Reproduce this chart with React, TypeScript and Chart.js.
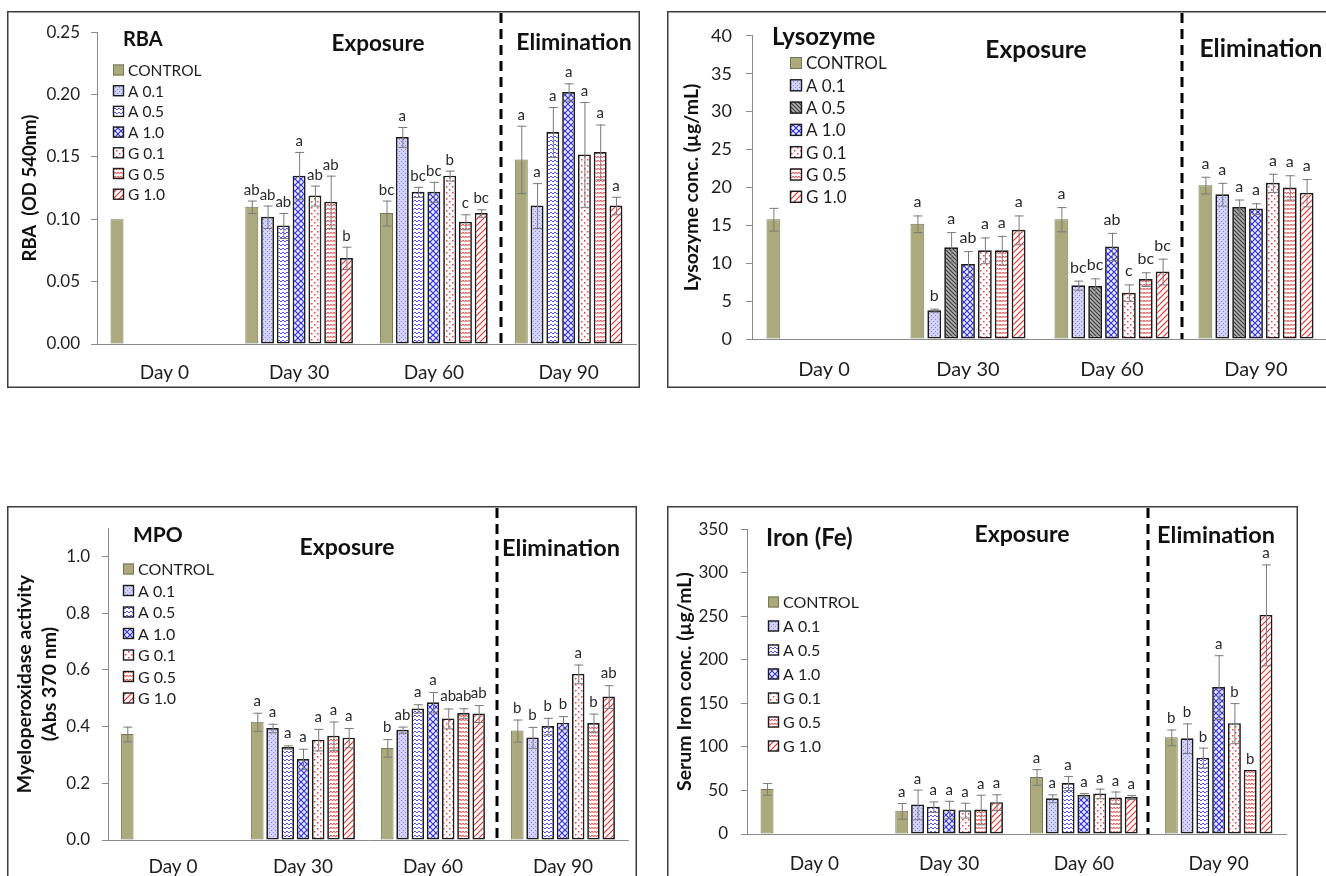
import React, { useEffect, useRef } from 'react';
import { Chart, registerables } from 'chart.js';

Chart.register(...registerables);

const FONT = 'Lato, "Open Sans", "DejaVu Sans", sans-serif';
Chart.defaults.font.family = FONT;

// ---------- shared categories ----------
const DAYS = ['Day 0', 'Day 30', 'Day 60', 'Day 90'];
const SERIES = ['CONTROL', 'A 0.1', 'A 0.5', 'A 1.0', 'G 0.1', 'G 0.5', 'G 1.0'];

// ---------- RBA ----------
const RBA_MEANS = [
  [0.100, 0.110, 0.105, 0.148],
  [null, 0.102, 0.166, 0.111],
  [null, 0.095, 0.122, 0.170],
  [null, 0.135, 0.122, 0.202],
  [null, 0.119, 0.135, 0.152],
  [null, 0.114, 0.098, 0.154],
  [null, 0.069, 0.105, 0.111],
];
const RBA_ERRORS = [
  [0, 0.005, 0.010, 0.027],
  [null, 0.009, 0.008, 0.018],
  [null, 0.010, 0.004, 0.020],
  [null, 0.019, 0.008, 0.007],
  [null, 0.008, 0.004, 0.042],
  [null, 0.021, 0.006, 0.022],
  [null, 0.009, 0.003, 0.007],
];
const RBA_LETTERS = [
  ['', 'ab', 'bc', 'a'],
  ['', 'ab', 'a', 'a'],
  ['', 'ab', 'bc', 'a'],
  ['', 'a', 'bc', 'a'],
  ['', 'ab', 'b', 'a'],
  ['', 'ab', 'c', 'a'],
  ['', 'b', 'bc', 'a'],
];
const RBA_TICKS = [0, 0.05, 0.1, 0.15, 0.2, 0.25];

// ---------- Lysozyme ----------
const LYS_MEANS = [
  [15.8, 15.2, 15.8, 20.3],
  [null, 3.8, 7.1, 19.1],
  [null, 12.1, 7.0, 17.4],
  [null, 9.9, 12.2, 17.2],
  [null, 11.7, 6.1, 20.6],
  [null, 11.7, 7.9, 20.0],
  [null, 14.4, 8.9, 19.3],
];
const LYS_ERRORS = [
  [1.5, 1.1, 1.6, 1.1],
  [null, 0.2, 0.6, 1.5],
  [null, 2.0, 1.0, 1.0],
  [null, 1.7, 1.8, 0.7],
  [null, 1.7, 1.1, 1.2],
  [null, 1.9, 0.9, 1.6],
  [null, 1.9, 1.7, 1.8],
];
const LYS_LETTERS = [
  ['', 'a', 'a', 'a'],
  ['', 'b', 'bc', 'a'],
  ['', 'a', 'bc', 'a'],
  ['', 'ab', 'ab', 'a'],
  ['', 'a', 'c', 'a'],
  ['', 'a', 'bc', 'a'],
  ['', 'a', 'bc', 'a'],
];
const LYS_TICKS = [0, 5, 10, 15, 20, 25, 30, 35, 40];

// ---------- MPO ----------
const MPO_MEANS = [
  [0.374, 0.417, 0.325, 0.386],
  [null, 0.395, 0.389, 0.362],
  [null, 0.328, 0.464, 0.402],
  [null, 0.286, 0.486, 0.414],
  [null, 0.354, 0.429, 0.586],
  [null, 0.368, 0.448, 0.413],
  [null, 0.361, 0.446, 0.506],
];
const MPO_ERRORS = [
  [0.026, 0.032, 0.031, 0.039],
  [null, 0.015, 0.011, 0.037],
  [null, 0.006, 0.015, 0.029],
  [null, 0.036, 0.036, 0.023],
  [null, 0.038, 0.035, 0.033],
  [null, 0.050, 0.017, 0.033],
  [null, 0.034, 0.030, 0.040],
];
const MPO_LETTERS = [
  ['', 'a', 'b', 'b'],
  ['', 'a', 'ab', 'b'],
  ['', 'a', 'a', 'b'],
  ['', 'a', 'a', 'b'],
  ['', 'a', 'ab', 'a'],
  ['', 'a', 'ab', 'b'],
  ['', 'a', 'ab', 'ab'],
];
const MPO_TICKS = [0, 0.2, 0.4, 0.6, 0.8, 1.0];

// ---------- Iron ----------
const FE_MEANS = [
  [51.8, 26.6, 65.5, 111],
  [null, 34, 41, 110],
  [null, 31.4, 58.5, 87.7],
  [null, 28.1, 45, 168.7],
  [null, 27.4, 46.6, 127.3],
  [null, 28.1, 41.8, 73.6],
  [null, 36.6, 42.5, 251.6],
];
const FE_ERRORS = [
  [6.7, 9, 9, 9],
  [null, 17, 4.5, 17],
  [null, 6, 8, 11.5],
  [null, 10, 2, 36.6],
  [null, 8.5, 5.5, 23],
  [null, 17, 7, 0],
  [null, 9, 2.3, 58],
];
const FE_LETTERS = [
  ['', 'a', 'a', 'b'],
  ['', 'a', 'a', 'b'],
  ['', 'a', 'a', 'b'],
  ['', 'a', 'a', 'a'],
  ['', 'a', 'a', 'b'],
  ['', 'a', 'a', 'b'],
  ['', 'a', 'a', 'a'],
];
const FE_TICKS = [0, 50, 100, 150, 200, 250, 300, 350];

// ---------- layout (page pixels) ----------
const PANELS: any[] = [
  {
    key: 'rba', means: RBA_MEANS, errors: RBA_ERRORS, letters: RBA_LETTERS, ticks: RBA_TICKS, max: 0.25, dec: 2,
    box: { x: 7, y: 11, w: 633, h: 377 }, area: { l: 97, t: 24, r: 636, b: 344 },
    yTitle: ['RBA  (OD 540nm)'], yTitleX: 30, yTitleSize: 18.5, yTitleLH: 1.2,
    tickSize: 17, tickPad: 11, daySize: 19, dayY: 373,
    dashX: 501, title: { text: 'RBA', x: 123, y: 40, size: 20 },
    expo: { x: 378, y: 44, size: 22.5 }, elim: { x: 574, y: 43, size: 23 },
    legend: { sx: 113, tx: 128, y0: 70, dy: 20.7, box: 11, size: 15.5 },
    letterSize: 15, letterGap: 6, grayA05: false,
  },
  {
    key: 'lys', means: LYS_MEANS, errors: LYS_ERRORS, letters: LYS_LETTERS, ticks: LYS_TICKS, max: 40, dec: 0,
    box: { x: 667, y: 11, w: 700, h: 377 }, area: { l: 752, t: 24, r: 1328, b: 339 },
    yTitle: ['Lysozyme conc. (µg/mL)'], yTitleX: 692, yTitleSize: 19.5, yTitleLH: 1.2,
    tickSize: 18, tickPad: 14, daySize: 20, dayY: 370,
    dashX: 1182, title: { text: 'Lysozyme', x: 772, y: 37, size: 24 },
    expo: { x: 1036, y: 50, size: 24.5 }, elim: { x: 1261, y: 49, size: 24.5 },
    legend: { sx: 790, tx: 806, y0: 63, dy: 22.3, box: 12, size: 17 },
    letterSize: 16, letterGap: 8, grayA05: true,
  },
  {
    key: 'mpo', means: MPO_MEANS, errors: MPO_ERRORS, letters: MPO_LETTERS, ticks: MPO_TICKS, max: 1.1, dec: 1,
    box: { x: 7, y: 506, w: 630, h: 385 }, area: { l: 108, t: 518, r: 628, b: 840 },
    yTitle: ['Myeloperoxidase activity', '(Abs 370 nm)'], yTitleX: 25, yTitleSize: 19.5, yTitleLH: 25 / 19.5,
    tickSize: 17, tickPad: 12, daySize: 19, dayY: 867,
    dashX: 497, title: { text: 'MPO', x: 133, y: 535, size: 21 },
    expo: { x: 347, y: 548, size: 23 }, elim: { x: 561, y: 548, size: 23.5 },
    legend: { sx: 123, tx: 138, y0: 569, dy: 21.5, box: 11, size: 16 },
    letterSize: 15, letterGap: 7, grayA05: false,
  },
  {
    key: 'fe', means: FE_MEANS, errors: FE_ERRORS, letters: FE_LETTERS, ticks: FE_TICKS, max: 350, dec: 0,
    box: { x: 667, y: 506, w: 631, h: 385 }, area: { l: 747, t: 519, r: 1286, b: 834 },
    yTitle: ['Serum Iron conc. (µg/mL)'], yTitleX: 685, yTitleSize: 19.5, yTitleLH: 1.2,
    tickSize: 17, tickPad: 13, daySize: 19, dayY: 864,
    dashX: 1148, title: { text: 'Iron (Fe)', x: 766, y: 538, size: 24 },
    expo: { x: 1022, y: 535, size: 23 }, elim: { x: 1216, y: 535, size: 23.5 },
    legend: { sx: 768, tx: 783, y0: 602, dy: 24, box: 11, size: 16 },
    letterSize: 15, letterGap: 6, grayA05: false,
  },
];

const CONTROL_FILL = 'rgb(170,170,124)';
const CONTROL_EDGE = 'rgb(118,118,84)';
const BAR_EDGE = '#1c1c1c';
const AXIS_GRAY = '#8a8a8a';
const TEXT = '#1e1e1e';

function makeFills(ctx: CanvasRenderingContext2D, grayA05: boolean): any[] {
  const tile = (w: number, h: number, draw: (g: CanvasRenderingContext2D) => void) => {
    const c = document.createElement('canvas');
    c.width = w;
    c.height = h;
    const g = c.getContext('2d') as CanvasRenderingContext2D;
    g.fillStyle = '#ffffff';
    g.fillRect(0, 0, w, h);
    draw(g);
    return ctx.createPattern(c, 'repeat');
  };
  const a01 = tile(4, 4, (g) => {
    g.fillStyle = '#d2d2fb';
    g.fillRect(0, 0, 4, 4);
    g.fillStyle = '#8686ee';
    g.fillRect(0, 0, 1, 1);
    g.fillRect(2, 2, 1, 1);
  });
  const a05 = grayA05
    ? tile(4, 4, (g) => {
        g.fillStyle = '#b2b2b2';
        g.fillRect(0, 0, 4, 4);
        g.strokeStyle = '#3a3a3a';
        g.lineWidth = 1.2;
        g.beginPath();
        g.moveTo(-1, -1); g.lineTo(5, 5);
        g.moveTo(-1, 3); g.lineTo(1, 5);
        g.moveTo(3, -1); g.lineTo(5, 1);
        g.stroke();
      })
    : tile(8, 4, (g) => {
        g.strokeStyle = '#5252f0';
        g.lineWidth = 1;
        g.beginPath();
        g.moveTo(0, 1); g.lineTo(2, 3); g.lineTo(4, 1); g.lineTo(6, 3); g.lineTo(8, 1);
        g.stroke();
      });
  const a10 = tile(6, 6, (g) => {
    g.fillStyle = '#ececff';
    g.fillRect(0, 0, 6, 6);
    g.strokeStyle = '#3232e0';
    g.lineWidth = 1.2;
    g.beginPath();
    g.moveTo(0, 0); g.lineTo(6, 6);
    g.moveTo(6, 0); g.lineTo(0, 6);
    g.stroke();
  });
  const g01 = tile(6, 6, (g) => {
    g.fillStyle = '#ee4040';
    g.fillRect(1, 1, 1.5, 1.5);
    g.fillRect(4, 4, 1.5, 1.5);
  });
  const g05 = tile(6, 4, (g) => {
    g.strokeStyle = '#f04848';
    g.lineWidth = 1;
    g.beginPath();
    g.moveTo(0, 1); g.lineTo(1.5, 3); g.lineTo(3, 1); g.lineTo(4.5, 3); g.lineTo(6, 1);
    g.stroke();
  });
  const g10 = tile(6, 6, (g) => {
    g.strokeStyle = '#e23434';
    g.lineWidth = 1.2;
    g.beginPath();
    g.moveTo(-1, 7); g.lineTo(7, -1);
    g.moveTo(-1, 1); g.lineTo(1, -1);
    g.moveTo(5, 7); g.lineTo(7, 5);
    g.stroke();
  });
  return [CONTROL_FILL, a01, a05, a10, g01, g05, g10];
}

function makeDecor(p: any, fills: any[]) {
  const ox = p.box.x;
  const oy = p.box.y;
  return {
    id: 'decor_' + p.key,
    afterDatasetsDraw(chart: any) {
      const ctx = chart.ctx as CanvasRenderingContext2D;
      const ys = chart.scales.y;
      ctx.save();
      p.means.forEach((ser: (number | null)[], i: number) => {
        const meta = chart.getDatasetMeta(i);
        ser.forEach((m, j) => {
          if (m == null) return;
          const el = meta.data[j];
          const x = el.x;
          const e = p.errors[i][j] || 0;
          const yt = ys.getPixelForValue(m + e);
          const yb = ys.getPixelForValue(m - e);
          if (e > 0) {
            ctx.strokeStyle = '#7a7a7a';
            ctx.lineWidth = 1;
            ctx.beginPath();
            ctx.moveTo(x + 0.5, yt);
            ctx.lineTo(x + 0.5, yb);
            ctx.moveTo(x - 4, yt + 0.5);
            ctx.lineTo(x + 5, yt + 0.5);
            ctx.moveTo(x - 4, yb + 0.5);
            ctx.lineTo(x + 5, yb + 0.5);
            ctx.stroke();
          }
          const L = p.letters[i][j];
          if (L) {
            ctx.fillStyle = '#2a2a2a';
            ctx.font = `${p.letterSize}px ${FONT}`;
            ctx.textAlign = 'center';
            ctx.textBaseline = 'alphabetic';
            ctx.fillText(L, x, Math.min(yt, ys.getPixelForValue(m)) - p.letterGap);
          }
        });
      });
      ctx.restore();
    },
    afterDraw(chart: any) {
      const ctx = chart.ctx as CanvasRenderingContext2D;
      const area = chart.chartArea;
      ctx.save();
      // panel frame
      ctx.strokeStyle = '#3c3c3c';
      ctx.lineWidth = 1.5;
      ctx.strokeRect(0.75, 0.75, p.box.w - 1.5, p.box.h - 1.5);
      // dashed phase divider
      ctx.strokeStyle = '#000';
      ctx.lineWidth = 3;
      ctx.setLineDash([10, 6]);
      ctx.beginPath();
      ctx.moveTo(p.dashX - ox, 2);
      ctx.lineTo(p.dashX - ox, area.bottom);
      ctx.stroke();
      ctx.setLineDash([]);
      // titles
      ctx.fillStyle = '#111';
      ctx.textBaseline = 'middle';
      ctx.textAlign = 'left';
      ctx.font = `bold ${p.title.size}px ${FONT}`;
      ctx.fillText(p.title.text, p.title.x - ox, p.title.y - oy);
      ctx.textAlign = 'center';
      ctx.font = `bold ${p.expo.size}px ${FONT}`;
      ctx.fillText('Exposure', p.expo.x - ox, p.expo.y - oy);
      ctx.font = `bold ${p.elim.size}px ${FONT}`;
      ctx.fillText('Elimination', p.elim.x - ox, p.elim.y - oy);
      // legend
      const lg = p.legend;
      ctx.textAlign = 'left';
      ctx.font = `${lg.size}px ${FONT}`;
      SERIES.forEach((name, i) => {
        const cy = lg.y0 + i * lg.dy - oy;
        const sx = lg.sx - ox;
        ctx.fillStyle = fills[i];
        ctx.fillRect(sx, cy - lg.box / 2, lg.box, lg.box);
        ctx.strokeStyle = i === 0 ? CONTROL_EDGE : BAR_EDGE;
        ctx.lineWidth = i === 0 ? 1 : 1.4;
        ctx.strokeRect(sx + 0.5, cy - lg.box / 2 + 0.5, lg.box - 1, lg.box - 1);
        ctx.fillStyle = TEXT;
        ctx.fillText(name, lg.tx - ox, cy + 1);
      });
      ctx.restore();
    },
  };
}

function Panel({ p }: { p: any }) {
  const ref = useRef<HTMLCanvasElement>(null);
  useEffect(() => {
    const canvas = ref.current as HTMLCanvasElement;
    const ctx = canvas.getContext('2d') as CanvasRenderingContext2D;
    const fills = makeFills(ctx, p.grayA05);
    const dayLH = p.daySize * 1.2;
    const dayPad = p.dayY - p.area.b - dayLH / 2;
    const titleLH = p.yTitleSize * p.yTitleLH;
    const titlePad = p.yTitleX - p.box.x - titleLH / 2;
    const chart = new Chart(canvas, {
      type: 'bar',
      data: {
        labels: DAYS,
        datasets: SERIES.map((name, i) => ({
          label: name,
          data: p.means[i],
          backgroundColor: fills[i],
          borderColor: i === 0 ? CONTROL_EDGE : BAR_EDGE,
          borderWidth: i === 0 ? 1 : 1.7,
          borderSkipped: false,
          categoryPercentage: 0.82,
          barPercentage: 0.82,
        })),
      },
      options: {
        animation: false,
        responsive: false,
        maintainAspectRatio: false,
        devicePixelRatio: 1,
        events: [],
        layout: {
          padding: { left: 0, top: p.area.t - p.box.y, right: p.box.x + p.box.w - p.area.r, bottom: 0 },
        },
        plugins: { legend: { display: false }, tooltip: { enabled: false } },
        scales: {
          x: {
            grid: { display: false, drawTicks: false },
            border: { display: true, color: AXIS_GRAY, width: 1 },
            ticks: { font: { size: p.daySize, family: FONT }, color: TEXT, padding: dayPad, maxRotation: 0, autoSkip: false },
            afterFit: (s: any) => { s.height = p.box.y + p.box.h - p.area.b; },
          },
          y: {
            min: 0,
            max: p.max,
            afterBuildTicks: (s: any) => { s.ticks = p.ticks.map((v: number) => ({ value: v })); },
            ticks: {
              font: { size: p.tickSize, family: FONT },
              color: TEXT,
              padding: p.tickPad,
              callback: (v: any) => Number(v).toFixed(p.dec),
            },
            grid: { drawOnChartArea: false, drawTicks: true, tickLength: 6, color: AXIS_GRAY },
            border: { display: true, color: AXIS_GRAY, width: 1 },
            title: {
              display: true,
              text: p.yTitle,
              color: '#111',
              font: { size: p.yTitleSize, weight: 'bold', family: FONT, lineHeight: p.yTitleLH },
              padding: { top: titlePad, bottom: 0 },
            },
            afterFit: (s: any) => { s.width = p.area.l - p.box.x; },
          },
        },
      } as any,
      plugins: [makeDecor(p, fills)],
    } as any);
    return () => chart.destroy();
  }, [p]);
  return (
    <canvas
      ref={ref}
      width={p.box.w}
      height={p.box.h}
      style={{ position: 'absolute', left: p.box.x, top: p.box.y, width: p.box.w, height: p.box.h }}
    />
  );
}

export default function App() {
  return (
    <div style={{ position: 'fixed', left: 0, top: 0, width: 1326, height: 876, overflow: 'hidden', background: '#fff' }}>
      {PANELS.map((p) => (
        <Panel key={p.key} p={p} />
      ))}
    </div>
  );
}
